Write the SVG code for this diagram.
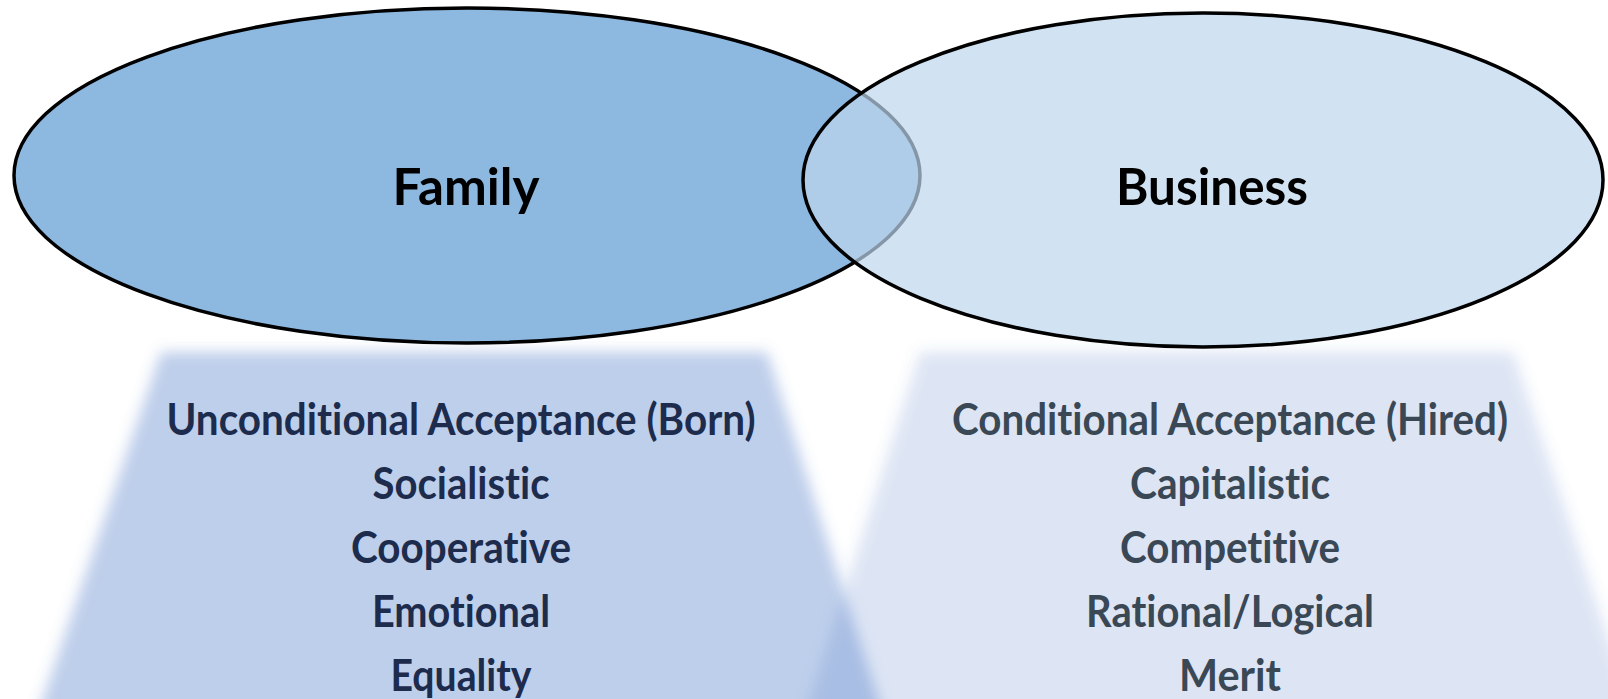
<svg xmlns="http://www.w3.org/2000/svg" width="1608" height="699" viewBox="0 0 1608 699">
  <defs>
    <filter id="soft" x="-10%" y="-10%" width="120%" height="120%">
      <feGaussianBlur stdDeviation="7"/>
    </filter>
    <style>
      .panel { fill: #4472C4; filter: url(#soft); }
      .ell { stroke: #000; stroke-width: 3.5; }
      .title { font-family: Lato, "Open Sans", "Liberation Sans", sans-serif; font-weight: 700; font-size: 51px; fill: #000; text-anchor: middle; font-variant-ligatures: none; }
      .item { font-family: Lato, "Open Sans", "Liberation Sans", sans-serif; font-weight: 700; font-size: 44px; text-anchor: middle; font-variant-ligatures: none; }
      .famtxt { fill: #1D2B4C; }
      .bustxt { fill: #3A4856; }
    </style>
  </defs>
  <rect width="1608" height="699" fill="#FFFFFF"/>

  <g id="panel-family">
    <polygon class="panel" fill-opacity="0.345" points="161,352 767,352 898,760 22,760"/>
  </g>
  <g id="panel-business">
    <polygon class="panel" fill-opacity="0.185" points="920,352 1513,352 1649,760 791,760"/>
  </g>

  <g id="node-family">
    <ellipse class="ell" cx="467" cy="175.5" rx="453" ry="167.5" fill="#8DB8E0"/>
  </g>
  <g id="node-business">
    <ellipse class="ell" cx="1203" cy="180" rx="400" ry="167" fill="rgb(189,213,237)" fill-opacity="0.7"/>
  </g>

  <g id="connectors"></g>

  <g id="label-family">
    <text class="title" x="466" y="205" textLength="147" lengthAdjust="spacingAndGlyphs">Family</text>
  </g>
  <g id="label-business">
    <text class="title" x="1212" y="205" textLength="192" lengthAdjust="spacingAndGlyphs">Business</text>
  </g>

  <g id="list-family" class="item famtxt">
    <text x="461" y="435" textLength="589" lengthAdjust="spacingAndGlyphs">Unconditional Acceptance (Born)</text>
    <text x="461" y="499" textLength="177" lengthAdjust="spacingAndGlyphs">Socialistic</text>
    <text x="461" y="563" textLength="220" lengthAdjust="spacingAndGlyphs">Cooperative</text>
    <text x="461" y="627" textLength="178" lengthAdjust="spacingAndGlyphs">Emotional</text>
    <text x="461" y="691" textLength="141" lengthAdjust="spacingAndGlyphs">Equality</text>
  </g>
  <g id="list-business" class="item bustxt">
    <text x="1230" y="435" textLength="556" lengthAdjust="spacingAndGlyphs">Conditional Acceptance (Hired)</text>
    <text x="1230" y="499" textLength="200" lengthAdjust="spacingAndGlyphs">Capitalistic</text>
    <text x="1230" y="563" textLength="220" lengthAdjust="spacingAndGlyphs">Competitive</text>
    <text x="1230" y="627" textLength="288" lengthAdjust="spacingAndGlyphs">Rational/Logical</text>
    <text x="1230" y="691" textLength="102" lengthAdjust="spacingAndGlyphs">Merit</text>
  </g>
</svg>
